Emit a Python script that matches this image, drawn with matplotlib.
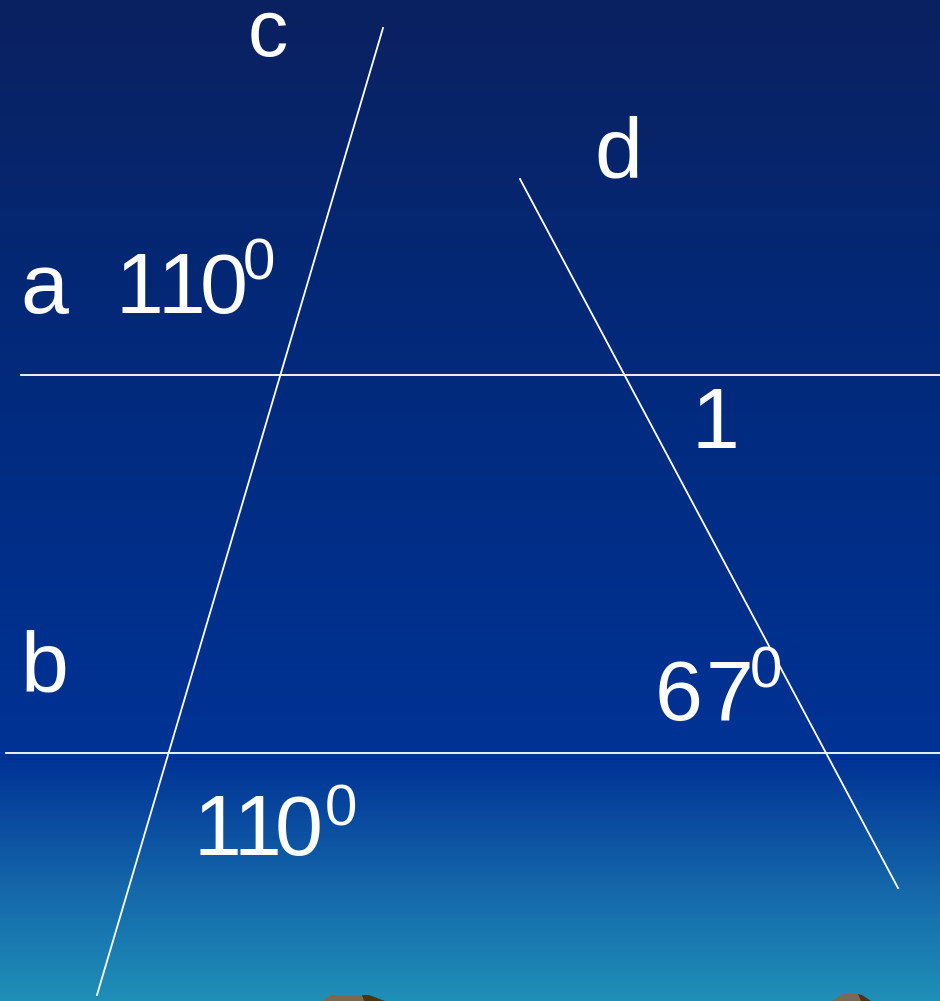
import numpy as np
import matplotlib
matplotlib.use("Agg")
import matplotlib.pyplot as plt
from matplotlib.patches import Polygon
from matplotlib import font_manager

W, H = 940, 1001

# background gradient stops (y position, colour)
bg_stops_y = [0, 370, 760, 890, 1001]
bg_stops_c = ["#0a2160", "#022a7c", "#003396", "#1568aa", "#1f90b8"]

# the four lines: (x0, y0, x1, y1) in pixels
line_a = (21, 375, 940, 375)
line_b = (6, 753, 940, 753)
line_c = (383, 28, 97, 995)
line_d = (520, 179, 898, 888)

# labels: text, left x of each character, baseline y
# (set one character at a time so the 1s keep the slide's spacing)
big_labels = [("a", [20], 313),
              ("110", [116, 158, 200], 313),
              ("d", [594], 177),
              ("1", [691], 448),
              ("b", [20], 691),
              ("67", [655, 706], 720),
              ("110", [193, 233, 275], 855)]
sup_labels = [("0", [243], 280), ("0", [750], 688), ("0", [325], 825)]
top_label = ("c", [248], 56)

# little rocks peeking in at the bottom edge
rock_light = [[(322, 1001), (331, 995), (362, 995), (364, 1001)],
              [(832, 1001), (843, 994), (858, 994), (861, 1001)]]
rock_dark = [[(362, 995), (369, 995), (385, 1001), (364, 1001)],
             [(858, 994), (862, 995), (871, 1001), (861, 1001)]]

# pick an Arial-like face that is really there
have = {f.name for f in font_manager.fontManager.ttflist}
main_font = "DejaVu Sans"
for name in ["Liberation Sans", "Arimo", "Arial", "Roboto", "Noto Sans"]:
    if name in have:
        main_font = name
        break
font = [main_font, "DejaVu Sans"]

fig = plt.figure(figsize=(W / 100, H / 100), dpi=100)
ax = fig.add_axes([0, 0, 1, 1])
ax.set_xlim(0, W)
ax.set_ylim(H, 0)
ax.axis("off")

rgb = np.array([matplotlib.colors.to_rgb(c) for c in bg_stops_c])
ys = np.arange(H)
grad = np.stack([np.interp(ys, bg_stops_y, rgb[:, k]) for k in range(3)], axis=-1)
ax.imshow(grad[:, None, :], extent=(0, W, H, 0), aspect="auto", zorder=0)

for x0, y0, x1, y1 in [line_a, line_b, line_c, line_d]:
    ax.plot([x0, x1], [y0, y1], color="white", lw=1.3, zorder=2)

for pts in rock_light:
    ax.add_patch(Polygon(pts, closed=True, color="#7b6a4e", lw=0, zorder=1))
for pts in rock_dark:
    ax.add_patch(Polygon(pts, closed=True, color="#4b3612", lw=0, zorder=1))


def put(label, size):
    txt, xs, y = label
    for ch, x in zip(txt, xs):
        ax.text(x, y, ch, color="white", fontsize=size, family=font,
                ha="left", va="baseline", zorder=3)


for lab in big_labels:
    put(lab, 62)
for lab in sup_labels:
    put(lab, 42)
put(top_label, 58)

fig.savefig("out.png", dpi=100)
